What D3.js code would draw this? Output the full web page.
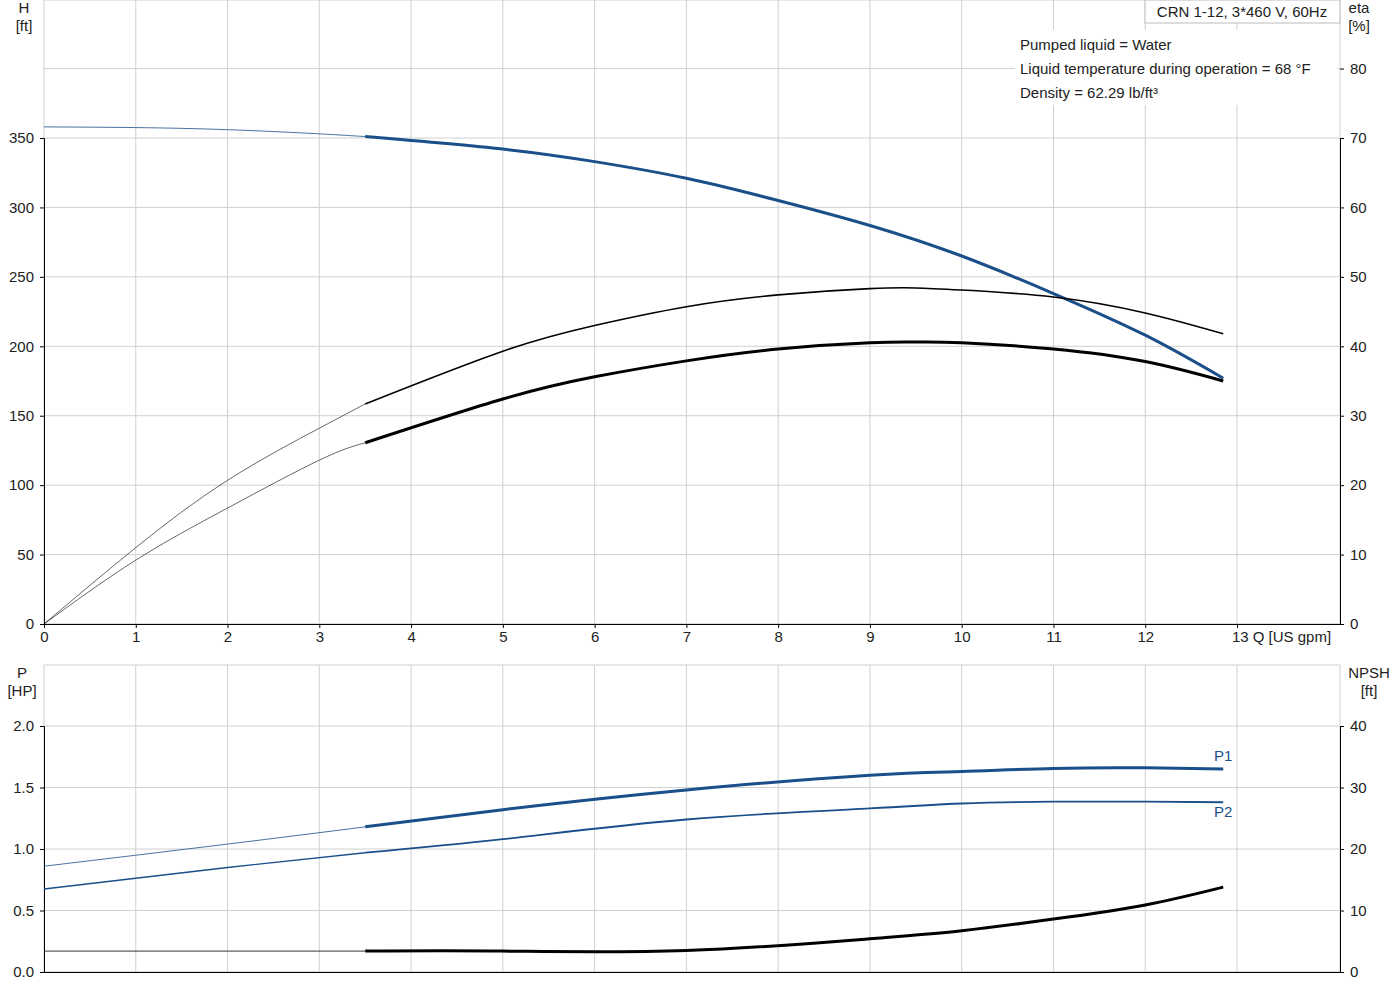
<!DOCTYPE html>
<html><head><meta charset="utf-8">
<script src="https://cdn.jsdelivr.net/npm/d3@7"></script>
<style>body{margin:0;background:#fff}text{font-family:"Liberation Sans",Arial,sans-serif;font-size:15px;fill:#222}</style>
</head><body><svg id="c" width="1400" height="1000"></svg>
<script>
var qH = [0, 1, 2, 3, 3.5, 5, 6, 7, 8, 9, 10, 11, 12, 12.85];
var headFt = [358, 357.5, 356, 353, 351, 342, 333, 321, 305, 287, 265, 238, 208, 177];
var qE = [0, 1, 2, 3, 3.5, 5, 6, 7, 8, 9, 9.5, 10, 11, 12, 12.85];
var etaA = [0, 11, 20.7, 28.2, 31.7, 39.3, 43, 45.7, 47.4, 48.3, 48.4, 48.1, 47.1, 44.8, 41.8];
var etaB = [0, 9.2, 16.7, 23.6, 26.1, 32.4, 35.6, 37.9, 39.6, 40.5, 40.6, 40.5, 39.6, 37.8, 35];
var qP = [0, 2, 3.5, 5, 7, 9, 10, 11, 12, 12.85];
var p1 = [0.86, 1.04, 1.18, 1.32, 1.48, 1.6, 1.63, 1.655, 1.66, 1.65];
var p2 = [0.675, 0.85, 0.97, 1.08, 1.24, 1.33, 1.37, 1.385, 1.385, 1.38];
var npsh = [3.4, 3.4, 3.4, 3.4, 3.5, 5.4, 6.7, 8.6, 10.9, 13.8];
var hTicks = [0, 50, 100, 150, 200, 250, 300, 350];
var etaTicks = [0, 10, 20, 30, 40, 50, 60, 70, 80];
var pTicks = [0, 0.5, 1.0, 1.5, 2.0];
var nTicks = [0, 10, 20, 30, 40];
var qTicks = d3.range(0, 14);
var infoLines = ["Pumped liquid = Water", "Liquid temperature during operation = 68 °F", "Density = 62.29 lb/ft³"];
var title = "CRN 1-12, 3*460 V, 60Hz";

var svg = d3.select("#c");
var BLUE = "#1a4f8a", GRID = "#d0d0d0";
var x = d3.scaleLinear().domain([0, 13]).range([44, 1237]);
var yH = d3.scaleLinear().domain([0, 350]).range([624, 138]);
var yE = d3.scaleLinear().domain([0, 70]).range([624, 138]);
var yP = d3.scaleLinear().domain([0, 2]).range([972, 726]);
var yN = d3.scaleLinear().domain([0, 40]).range([972, 726]);

function grid(top, bot, ys, vals) {
    var g = svg.append("g");
    g.selectAll(".v").data(qTicks.slice(1)).join("line")
        .attr("x1", d => x(d)).attr("x2", d => x(d)).attr("y1", top).attr("y2", bot)
        .attr("stroke", GRID);
    g.selectAll(".h").data(vals).join("line")
        .attr("x1", 44).attr("x2", 1340).attr("y1", d => ys(d)).attr("y2", d => ys(d))
        .attr("stroke", GRID);
    g.append("rect").attr("x", 44).attr("y", top).attr("width", 1296).attr("height", bot - top)
        .attr("fill", "none").attr("stroke", GRID);
}
grid(0, 624, yE, etaTicks);
grid(665, 972, yN, nTicks);

function axis(gen, tx, ty) {
    var g = svg.append("g").attr("transform", "translate(" + tx + "," + ty + ")").call(gen);
    g.select(".domain").attr("stroke", "#000");
    g.selectAll("text").style("font-size", "15px").attr("fill", "#222");
    return g;
}
axis(d3.axisLeft(yH).tickValues(hTicks).tickSize(4).tickPadding(6), 44, 0);
axis(d3.axisRight(yE).tickValues(etaTicks).tickSize(4).tickPadding(6), 1340, 0);
axis(d3.axisBottom(x).tickValues(qTicks).tickSize(4).tickPadding(3), 0, 624)
    .selectAll(".tick text").filter(d => d === 13).text("13 Q [US gpm]").attr("dx", 44);
svg.append("line").attr("x1", 1237).attr("x2", 1340).attr("y1", 624.5).attr("y2", 624.5).attr("stroke", "#000");
axis(d3.axisLeft(yP).tickValues(pTicks).tickFormat(d3.format(".1f")).tickSize(4).tickPadding(6), 44, 0);
axis(d3.axisRight(yN).tickValues(nTicks).tickSize(4).tickPadding(6), 1340, 0);
svg.append("line").attr("x1", 44).attr("x2", 1340).attr("y1", 972.5).attr("y2", 972.5).attr("stroke", "#000");

function curve(xs, vs, ys, color, split, wThin, wThick) {
    var pts = xs.map((q, i) => [q, vs[i]]);
    var line = d3.line().x(d => x(d[0])).y(d => ys(d[1])).curve(d3.curveNatural);
    svg.append("path").attr("d", line(pts.filter(d => d[0] <= split)))
        .attr("fill", "none").attr("stroke", color).attr("stroke-width", wThin);
    svg.append("path").attr("d", line(pts.filter(d => d[0] >= split)))
        .attr("fill", "none").attr("stroke", color).attr("stroke-width", wThick);
}
curve(qH, headFt, yH, BLUE, 3.5, 0.8, 3);
curve(qE, etaA, yE, "#000", 3.5, 0.6, 1.6);
curve(qE, etaB, yE, "#000", 3.5, 0.6, 3);
curve(qP, p1, yP, BLUE, 3.5, 0.8, 3);
curve(qP, p2, yP, BLUE, 3.5, 1.4, 1.8);
curve(qP, npsh, yN, "#000", 3.5, 0.8, 3);

svg.append("text").attr("x", 1214).attr("y", 761).style("fill", BLUE).text("P1");
svg.append("text").attr("x", 1214).attr("y", 817).style("fill", BLUE).text("P2");

// axis titles
[["H", 24, 13], ["[ft]", 24, 31], ["eta", 1359, 13], ["[%]", 1359, 31],
 ["P", 22, 678], ["[HP]", 22, 696], ["NPSH", 1369, 678], ["[ft]", 1369, 696]]
    .forEach(t => svg.append("text").attr("x", t[1]).attr("y", t[2]).attr("text-anchor", "middle").text(t[0]));

svg.append("rect").attr("x", 1145).attr("y", 0).attr("width", 195).attr("height", 23)
    .attr("fill", "#fff").attr("stroke", "#bbb");
svg.append("text").attr("x", 1242).attr("y", 17).attr("text-anchor", "middle").text(title);
svg.append("rect").attr("x", 1015).attr("y", 30).attr("width", 322).attr("height", 75).attr("fill", "#fff");
infoLines.forEach((s, i) => svg.append("text").attr("x", 1020).attr("y", 50 + i * 24).text(s));
</script></body></html>
